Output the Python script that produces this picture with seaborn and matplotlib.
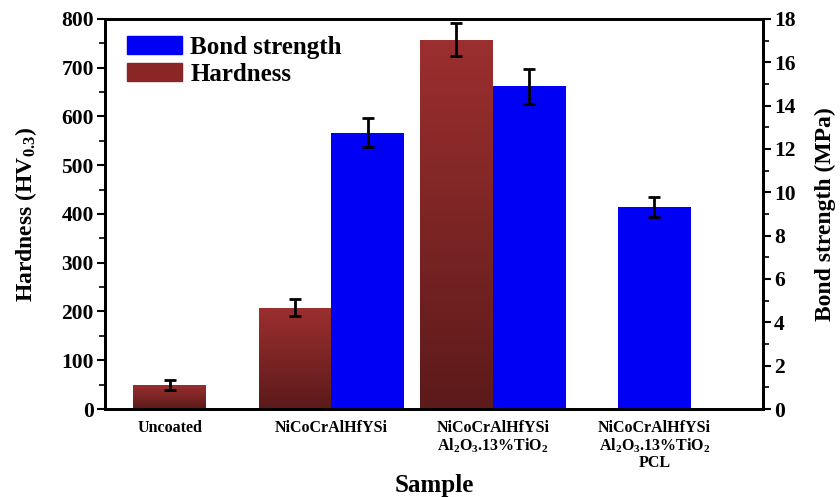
import numpy as np
import pandas as pd
import matplotlib
matplotlib.use("Agg")
import matplotlib.pyplot as plt
import matplotlib.patches as mpatches
from matplotlib.colors import LinearSegmentedColormap
import seaborn as sns

# ---- data ----
samples = ["Uncoated",
           "NiCoCrAlHfYSi",
           "NiCoCrAlHfYSi\nAl$_2$O$_3$.13%TiO$_2$",
           "NiCoCrAlHfYSi\nAl$_2$O$_3$.13%TiO$_2$\nPCL"]
hardness = [50, 208, 757, np.nan]
hardness_err = [10, 17, 34, np.nan]
bond_strength = [np.nan, 12.75, 14.9, 9.32]
bond_err = [np.nan, 0.67, 0.81, 0.46]

sns.set_theme(style="white")
plt.rcParams['font.family'] = ['Liberation Serif', 'DejaVu Serif']
plt.rcParams['font.weight'] = 'bold'
plt.rcParams['text.color'] = 'black'
plt.rcParams['axes.labelcolor'] = 'black'
plt.rcParams['mathtext.fontset'] = 'custom'
plt.rcParams['mathtext.rm'] = 'Liberation Serif:bold'
plt.rcParams['mathtext.it'] = 'Liberation Serif:bold'
plt.rcParams['mathtext.bf'] = 'Liberation Serif:bold'

RED = "#8A2626"
BLUE = "#0000F5"
bw = 0.45

idx = np.arange(len(samples))
h = np.array(hardness, float)
b = np.array(bond_strength, float)
both = ~np.isnan(h) & ~np.isnan(b)
h_pos = idx - np.where(both, bw / 2, 0)
b_pos = idx + np.where(both, bw / 2, 0)

dfh = pd.DataFrame({"pos": h_pos, "val": h, "err": hardness_err}).dropna()
dfb = pd.DataFrame({"pos": b_pos, "val": b, "err": bond_err}).dropna()


def native_w(p):
    u = np.unique(p)
    return np.min(np.diff(u)) if len(u) > 1 else 1.0


fig = plt.figure(figsize=(8.4, 4.97), dpi=100)
ax = fig.add_axes([0.125, 0.177, 0.783, 0.785])
ax2 = ax.twinx()

sns.barplot(data=dfh, x="pos", y="val", native_scale=True, errorbar=None,
            width=bw / native_w(dfh["pos"]), color=RED, saturation=1,
            linewidth=0, ax=ax)
sns.barplot(data=dfb, x="pos", y="val", native_scale=True, errorbar=None,
            width=bw / native_w(dfb["pos"]), color=BLUE, saturation=1,
            linewidth=0, ax=ax2)

# gradient on hardness bars
cmap = LinearSegmentedColormap.from_list("g", ["#5C1A1A", "#9C2F2F"])
grad = np.linspace(0, 1, 256).reshape(-1, 1)
for p in list(ax.patches):
    x0, y0 = p.get_x(), p.get_y()
    w, hh = p.get_width(), p.get_height()
    im = ax.imshow(grad, cmap=cmap, aspect="auto", origin="lower",
                   extent=[x0, x0 + w, y0, y0 + hh], zorder=p.get_zorder() + 0.1)
    im.set_clip_path(p)

ax.errorbar(dfh["pos"], dfh["val"], yerr=dfh["err"], fmt="none", ecolor="black",
            elinewidth=2, capsize=4, capthick=2, zorder=5)
ax2.errorbar(dfb["pos"], dfb["val"], yerr=dfb["err"], fmt="none", ecolor="black",
             elinewidth=2, capsize=4, capthick=2, zorder=5)

ax.set_xlim(-0.40, 3.67)
ax.set_ylim(0, 800)
ax2.set_ylim(0, 18)
ax.set_xticks(idx)
ax.set_xticklabels(samples, fontsize=11.5, fontweight="bold", va="top",
                   linespacing=1.0, color="black")
ax.tick_params(axis="x", which="both", length=0, pad=8)
ax.set_yticks(np.arange(0, 801, 100))
ax.set_yticks(np.arange(50, 800, 100), minor=True)
ax2.set_yticks(np.arange(0, 19, 2))
ax2.set_yticks(np.arange(1, 18, 2), minor=True)
for a in (ax, ax2):
    a.tick_params(axis="y", which="major", direction="out", length=6, width=1.5,
                  labelsize=15.5, pad=2, colors="black")
    a.tick_params(axis="y", which="minor", direction="out", length=4, width=1.2,
                  colors="black")
    for s in a.spines.values():
        s.set_linewidth(2)
        s.set_color("black")
    for lab in a.get_yticklabels():
        lab.set_fontweight("bold")
ax.yaxis.set_ticks_position("left")
ax2.yaxis.set_ticks_position("right")

ax.set_xlabel("Sample", fontsize=18, fontweight="bold")
ax.xaxis.set_label_coords(0.5, -0.195)
ax.xaxis.label.set_va("center")
ax.set_ylabel("Hardness (HV$_{0.3}$)", fontsize=17, fontweight="bold", labelpad=16)
ax2.set_ylabel("Bond strength (MPa)", fontsize=17, fontweight="bold", labelpad=14)

handles = [mpatches.Patch(color=BLUE, label="Bond strength"),
           mpatches.Patch(color=RED, label="Hardness")]
leg = ax.legend(handles=handles, loc="upper left", bbox_to_anchor=(0.01, 0.995),
                frameon=False, prop={"size": 18, "weight": "bold"},
                handlelength=2.2, handleheight=0.75, labelspacing=0.15,
                handletextpad=0.35, borderaxespad=0.2)
for t in leg.get_texts():
    t.set_color("black")

fig.savefig("out.png", dpi=100)
